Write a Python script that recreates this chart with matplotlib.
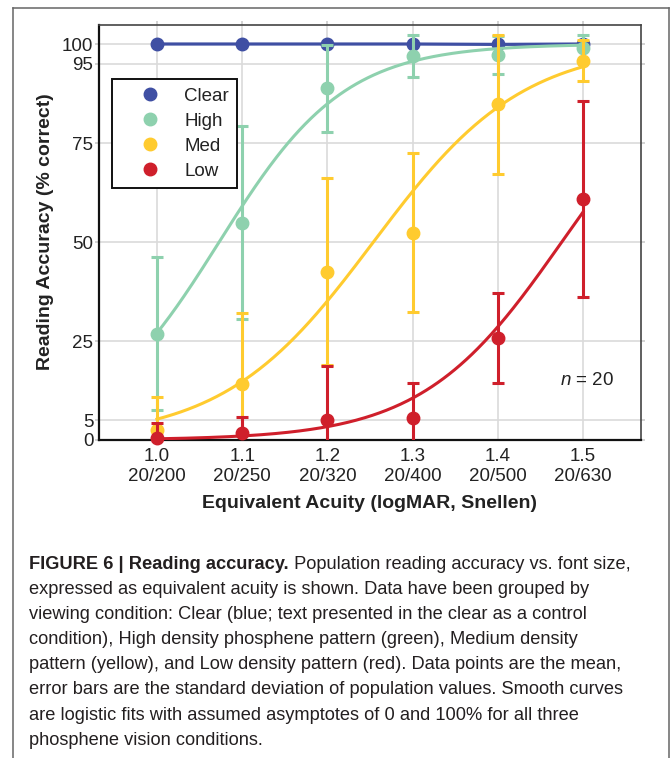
import matplotlib
matplotlib.use('Agg')
import matplotlib.pyplot as plt
import numpy as np
from matplotlib.lines import Line2D
from matplotlib import font_manager

# ---------------- data ----------------
acuity = [1.0, 1.1, 1.2, 1.3, 1.4, 1.5]
snellen = ['20/200', '20/250', '20/320', '20/400', '20/500', '20/630']
yticks = [0, 5, 25, 50, 75, 95, 100]
conditions = ['Clear', 'High', 'Med', 'Low']

clear_mean = [100, 100, 100, 100, 99.9, 100]
high_mean = [26.8, 54.9, 88.8, 97.0, 97.2, 98.9]
high_sd = [19.3, 24.3, 11.0, 5.3, 4.9, 3.4]
med_mean = [2.5, 14.2, 42.5, 52.4, 84.8, 95.8]
med_sd = [8.4, 17.8, 23.6, 20.2, 17.6, 5.1]
low_mean = [0.4, 1.7, 5.0, 5.5, 25.8, 60.8]
low_sd = [3.9, 4.1, 13.8, 8.8, 11.3, 24.8]

# logistic fit parameters (midpoint, slope), asymptotes 0 and 100
high_fit = (1.073, 13.6)
med_fit = (1.254, 11.38)
low_fit = (1.475, 12.2)

caption_bold = "FIGURE 6 | Reading accuracy."
caption_first = " Population reading accuracy vs. font size,"
caption_rest = [
    "expressed as equivalent acuity is shown. Data have been grouped by",
    "viewing condition: Clear (blue; text presented in the clear as a control",
    "condition), High density phosphene pattern (green), Medium density",
    "pattern (yellow), and Low density pattern (red). Data points are the mean,",
    "error bars are the standard deviation of population values. Smooth curves",
    "are logistic fits with assumed asymptotes of 0 and 100% for all three",
    "phosphene vision conditions.",
]

# ---------------- style ----------------
plt.rcParams['font.family'] = ['Liberation Sans', 'DejaVu Sans']
plt.rcParams['mathtext.fontset'] = 'custom'
plt.rcParams['mathtext.it'] = 'Liberation Sans:italic'
plt.rcParams['mathtext.rm'] = 'Liberation Sans'

c_clear = '#3F4FA3'
c_high = '#8ED1AE'
c_med = '#FFCB2F'
c_low = '#CF1F2B'
txt = '#222222'

W, H = 671, 758
fig = plt.figure(figsize=(W / 100, H / 100), dpi=100)
ax = fig.add_axes([99 / W, 1 - 440 / H, 542 / W, 415 / H])
ax.set_xlim(0.932, 1.568)
ax.set_ylim(0, 104.8)

ax.grid(True, color='#dadada', lw=1.2)
ax.set_axisbelow(True)

# Clear: straight connected line
ax.plot(acuity, clear_mean, '-', color=c_clear, lw=2.3, zorder=3)
ax.plot(acuity, clear_mean, 'o', color=c_clear, ms=9, zorder=3, clip_on=False)

xf = np.linspace(1.0, 1.5, 300)
series = [(high_mean, high_sd, high_fit, c_high),
          (med_mean, med_sd, med_fit, c_med),
          (low_mean, low_sd, low_fit, c_low)]
for mean, sd, fit, col in series:
    ax.plot(xf, 100 / (1 + np.exp(-fit[1] * (xf - fit[0]))), color=col, lw=2.2, zorder=3)
    ax.errorbar(acuity, mean, yerr=sd, fmt='none', ecolor=col, elinewidth=2.2,
                capsize=4.5, capthick=2.2, zorder=3)
    ax.plot(acuity, mean, 'o', color=col, ms=9, zorder=3, clip_on=False)

ax.set_yticks(yticks)
ax.set_yticklabels([str(v) for v in yticks])
ax.set_xticks(acuity)
ax.set_xticklabels([f"{a:.1f}\n{s}" for a, s in zip(acuity, snellen)])
ax.tick_params(axis='both', direction='out', color='#cccccc', width=1.2,
               labelsize=13.5, labelcolor=txt)
ax.tick_params(axis='y', length=3, pad=1, left=True, right=True)
ax.tick_params(axis='x', length=3, pad=3, top=True, bottom=False)

for s in ['left', 'bottom']:
    ax.spines[s].set_color('#111111')
    ax.spines[s].set_linewidth(1.6)
for s in ['top', 'right']:
    ax.spines[s].set_color('#444444')
    ax.spines[s].set_linewidth(1.2)

handles = [Line2D([], [], ls='none', marker='o', ms=9, color=c)
           for c in [c_clear, c_high, c_med, c_low]]
leg = ax.legend(handles, conditions, loc='upper left',
                bbox_to_anchor=((112 - 99) / 542, (440 - 79) / 415),
                borderaxespad=0, frameon=True, fancybox=False, edgecolor='#111111',
                framealpha=1, fontsize=13.5, handlelength=3.2, handletextpad=0.2,
                borderpad=0.45, labelspacing=0.42)
leg.get_frame().set_linewidth(1.4)
leg.set_zorder(10)
for t in leg.get_texts():
    t.set_color(txt)

ax.text(1.5365, 14.9, r'$n$ = 20', ha='right', va='center', fontsize=13.5, color=txt)

fig.text(46 / W, 1 - 232 / H, 'Reading Accuracy (% correct)', rotation=90,
         ha='center', va='center', fontsize=14, weight='bold', color=txt)
fig.text(369 / W, 1 - 503 / H, 'Equivalent Acuity (logMAR, Snellen)',
         ha='center', va='center', fontsize=14, weight='bold', color=txt)

# outer frame
fr = '#666666'
fig.add_artist(Line2D([13 / W, 13 / W], [0, 1 - 8 / H], transform=fig.transFigure, color=fr, lw=1.1))
fig.add_artist(Line2D([13 / W, 669 / W], [1 - 8 / H, 1 - 8 / H], transform=fig.transFigure, color=fr, lw=1.1))
fig.add_artist(Line2D([669 / W, 669 / W], [0, 1 - 8 / H], transform=fig.transFigure, color=fr, lw=1.1))

# caption
names = {f.name for f in font_manager.fontManager.ttflist}
cap_family = ['Liberation Sans Narrow'] if 'Liberation Sans Narrow' in names else ['Liberation Sans']
cap_color = '#231f20'
renderer = fig.canvas.get_renderer()
fs0 = 12.0
y0 = 569
tb = fig.text(29 / W, 1 - y0 / H, caption_bold, fontsize=fs0, weight='bold',
              family=cap_family, color=cap_color, va='baseline')
tr = fig.text(0, 1 - y0 / H, caption_first, fontsize=fs0, family=cap_family,
              color=cap_color, va='baseline')
wb = tb.get_window_extent(renderer).width
wr = tr.get_window_extent(renderer).width
fs = fs0 * 602.0 / (wb + wr)
tb.set_fontsize(fs)
tr.set_fontsize(fs)
wb = tb.get_window_extent(renderer).width
tr.set_x((29 + wb) / W)
for i, line in enumerate(caption_rest):
    fig.text(29 / W, 1 - (y0 + 25.1 * (i + 1)) / H, line, fontsize=fs,
             family=cap_family, color=cap_color, va='baseline')

fig.savefig('out.png', dpi=100)
